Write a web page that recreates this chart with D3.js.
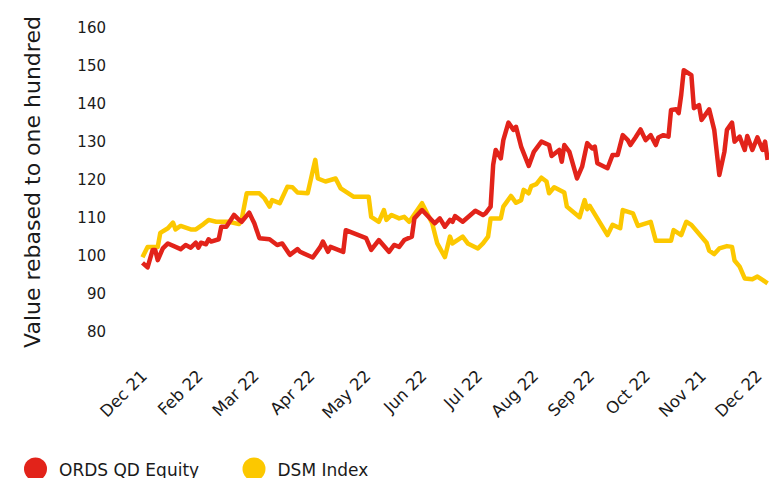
<!DOCTYPE html>
<html>
<head>
<meta charset="utf-8">
<script src="https://cdn.jsdelivr.net/npm/d3@7"></script>
<style>
	body { margin: 0; background: #fff; }
	svg { display: block; }
	text { font-family: "DejaVu Sans", sans-serif; fill: #1a1a1a; }
</style>
</head>
<body>
<script>
// trading-day index (0 = first day shown) and value rebased to 100
var ordsDays = [0, 2, 4, 5, 6, 8, 10, 15, 17, 19, 21, 22, 23, 25, 26, 27, 30, 31, 33, 36, 38, 39, 42, 44, 46,
	50, 53, 55, 58, 61, 62, 67, 70, 71, 73, 74, 79, 80, 88, 90, 93, 97, 99, 101, 103, 106, 107, 110,
	115, 117, 119, 121, 122, 123, 126, 131, 134, 135, 137, 138, 139, 141, 142, 144, 146, 147, 149,
	152, 154, 157, 160, 161, 164, 165, 166, 168, 171, 173, 175, 177, 178, 179, 183, 185, 187, 189,
	191, 192, 194, 196, 198, 200, 202, 203, 205, 207, 208, 210, 211, 212, 213, 216, 217, 219, 220,
	223, 225, 227, 229, 230, 232, 233, 235, 237, 238, 240, 242, 244, 245, 246];
var ordsValues = [98.2, 97.0, 101.6, 101.6, 98.9, 102.0, 103.3, 101.8, 102.9, 102.2, 103.5, 102.2, 103.5, 103.1, 104.4, 103.8, 104.4, 107.7, 107.7, 110.8, 109.5, 109.0, 111.4, 108.6, 104.7,
	104.4, 102.9, 103.3, 100.3, 101.8, 101.1, 99.6, 102.4, 103.8, 101.1, 102.4, 101.1, 106.8, 104.7, 101.6, 104.2, 101.1, 102.9, 102.4, 104.2, 105.1, 109.9, 112.1,
	108.6, 109.9, 107.7, 109.5, 109.0, 110.5, 109.0, 111.9, 110.8, 111.2, 113.0, 124.0, 127.9, 125.7, 130.5, 135.1, 133.2, 134.0, 128.8,
	123.7, 127.4, 130.1, 129.2, 126.3, 127.9, 124.8, 129.2, 127.4, 120.4, 123.5, 129.7, 128.3, 128.8, 124.4, 123.1, 126.6, 126.6, 131.8,
	130.5, 129.2, 131.2, 133.3, 130.5, 131.8, 129.2, 131.2, 131.8, 131.4, 138.4, 138.6, 137.6, 142.4, 148.9, 147.6, 138.9, 139.7, 135.8,
	138.6, 133.2, 121.3, 127.4, 133.2, 135.1, 130.1, 131.4, 127.9, 131.6, 127.9, 131.2, 127.9, 130.1, 125.3];

var dsmDays = [0, 2, 6, 7, 10, 12, 13, 15, 19, 21, 24, 26, 29, 34, 38, 39, 41, 46, 48, 50, 51, 54, 57, 59, 61,
	65, 68, 69, 72, 76, 78, 83, 89, 90, 93, 95, 96, 98, 101, 103, 105, 110, 114, 116, 119, 121, 122,
	126, 128, 132, 134, 136, 137, 141, 142, 145, 147, 149, 150, 152, 153, 155, 157, 159, 160, 162, 166,
	167, 172, 174, 175, 176, 183, 185, 188, 189, 193, 195, 200, 202, 208, 209, 212, 214, 216, 222, 223,
	225, 227, 230, 232, 233, 235, 237, 240, 242, 244, 246];
var dsmValues = [99.7, 102.4, 102.4, 106.1, 107.3, 108.8, 107.0, 107.9, 107.0, 107.0, 108.4, 109.5, 109.0, 109.0, 108.4, 109.5, 116.5, 116.5, 115.2, 113.0, 114.7, 113.9, 118.2, 118.1, 116.7,
	116.5, 125.3, 120.4, 119.6, 120.4, 117.8, 115.6, 115.6, 110.3, 109.0, 112.1, 109.5, 110.8, 109.9, 110.3, 109.0, 113.9, 108.6, 103.3, 99.7, 105.1, 103.3,
	105.1, 103.3, 102.0, 103.3, 105.1, 109.9, 109.9, 113.0, 115.8, 114.0, 114.7, 117.4, 116.5, 118.4, 118.9, 120.6, 119.6, 116.5, 118.1, 116.7,
	113.0, 110.2, 114.7, 112.3, 113.2, 105.5, 108.2, 107.3, 112.1, 111.2, 107.9, 109.0, 104.0, 104.0, 106.8, 105.5, 109.0, 108.2, 103.5, 101.4,
	100.5, 102.0, 102.6, 102.4, 98.8, 97.2, 94.1, 93.9, 94.6, 93.7, 92.8];

var tickDays = [2, 24, 46, 68, 90, 112, 134, 156, 178, 200, 222, 244];
var tickLabels = ["Dec 21", "Feb 22", "Mar 22", "Apr 22", "May 22", "Jun 22", "Jul 22", "Aug 22", "Sep 22", "Oct 22", "Nov 21", "Dec 22"];
var yTicks = [80, 90, 100, 110, 120, 130, 140, 150, 160];

var seriesNames = ["ORDS QD Equity", "DSM Index"];
var seriesColors = ["#e2231a", "#fcc800"];

var width = 769, height = 478;

var svg = d3.select("body").append("svg")//
.attr("width", width)//
.attr("height", height);

var x = d3.scaleLinear().domain([0, 246]).range([142.5, 767.6]);
var y = d3.scaleLinear().domain([80, 160]).range([332, 28]);

// y axis labels
var yAxis = svg.append("g")//
.attr("transform", "translate(106,0)")//
.call(d3.axisLeft(y).tickValues(yTicks).tickSize(0).tickPadding(0));
yAxis.select(".domain").remove();
yAxis.selectAll("text")//
.style("font-family", "'DejaVu Sans', sans-serif")//
.attr("font-size", "15px")//
.attr("fill", "#1a1a1a");

// axis title
svg.append("text")//
.attr("transform", "translate(40,182) rotate(-90)")//
.attr("text-anchor", "middle")//
.attr("font-size", "22px")//
.text("Value rebased to one hundred");

// x axis labels
var xAxis = svg.append("g")//
.attr("transform", "translate(0,377)")//
.call(d3.axisBottom(x).tickValues(tickDays).tickSize(0).tickPadding(0).tickFormat(function(d, i) {
	return tickLabels[i];
}));
xAxis.select(".domain").remove();
xAxis.selectAll("text")//
.style("font-family", "'DejaVu Sans', sans-serif")//
.attr("font-size", "16.5px")//
.attr("fill", "#1a1a1a")//
.attr("y", 0)//
.attr("dy", 0)//
.attr("text-anchor", "end")//
.attr("transform", "rotate(-45)");

// lines
var series = [ d3.zip(ordsDays, ordsValues), d3.zip(dsmDays, dsmValues) ];
var line = d3.line()//
.x(function(d) {
	return x(d[0]);
})//
.y(function(d) {
	return y(d[1]);
});

// yellow drawn first so the red one sits on top
svg.selectAll(".series").data([1, 0]).enter().append("path")//
.attr("class", "series")//
.attr("fill", "none")//
.attr("stroke", function(d) {
	return seriesColors[d];
})//
.attr("stroke-width", 4.5)//
.attr("stroke-linejoin", "round")//
.attr("d", function(d) {
	return line(series[d]);
});

// legend
var legend = svg.selectAll(".legend").data([0, 1]).enter().append("g")//
.attr("class", "legend")//
.attr("transform", function(d) {
	return "translate(" + (35.5 + d * 218.5) + ",469)";
});
legend.append("circle")//
.attr("r", 11.5)//
.attr("fill", function(d) {
	return seriesColors[d];
});
legend.append("text")//
.attr("x", 23.5)//
.attr("y", 7)//
.attr("font-size", "17px")//
.text(function(d) {
	return seriesNames[d];
});
</script>
</body>
</html>
